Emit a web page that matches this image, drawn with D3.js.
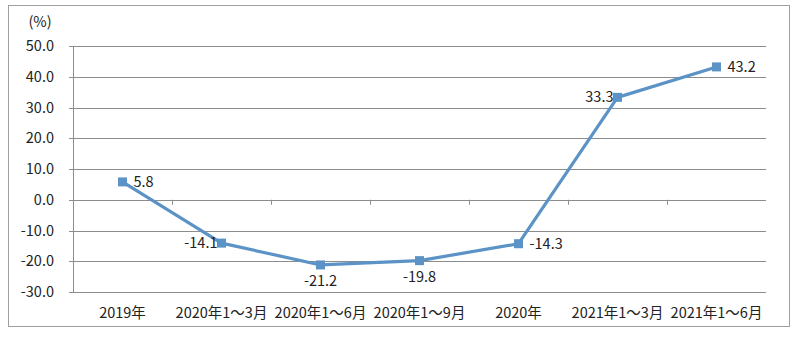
<!DOCTYPE html>
<html><head><meta charset="utf-8">
<script src="https://cdn.jsdelivr.net/npm/d3@7"></script>
<style>body{margin:0;background:#fff}svg{display:block}</style>
</head><body><svg id="c" width="800" height="337"></svg>
<script>
const categories = ["2019年","2020年1～3月","2020年1～6月","2020年1～9月","2020年","2021年1～3月","2021年1～6月"];
const values = [5.8, -14.1, -21.2, -19.8, -14.3, 33.3, 43.2];
const labelPos = ["right","left","below","below","right","left","right"];
const yTicks = [50,40,30,20,10,0,-10,-20,-30];
const unitLabel = "(%)";

const svg = d3.select("#c");
const font = "'Noto Sans CJK SC','Noto Sans',sans-serif";
const fs = 14.5;
const m = {l:73, r:766, t:46, b:292};
svg.append("rect").attr("x",8.5).attr("y",5.5).attr("width",781).attr("height",321)
  .attr("fill","#fff").attr("stroke","#a0a0a0");

const x = d3.scaleBand().domain(categories).range([m.l, m.r]);
const y = d3.scaleLinear().domain([-30,50]).range([m.b, m.t]);

svg.append("g").selectAll("line").data(yTicks).join("line")
  .attr("x1",m.l-4).attr("x2",m.r).attr("y1",d=>Math.round(y(d))+0.5).attr("y2",d=>Math.round(y(d))+0.5)
  .attr("stroke","#8c8c8c").attr("stroke-width",1);
svg.append("line").attr("x1",m.l+0.5).attr("x2",m.l+0.5).attr("y1",y(50)).attr("y2",y(-30)).attr("stroke","#8c8c8c");
svg.append("g").selectAll("text").data(yTicks).join("text")
  .attr("x",54).attr("y",d=>y(d)).attr("dy","0.35em").attr("text-anchor","end")
  .attr("font-family",font).attr("font-size",fs).attr("fill","#222").text(d=>d.toFixed(1));
svg.append("text").attr("x",40).attr("y",22).attr("dy","0.35em").attr("text-anchor","middle")
  .attr("font-family",font).attr("font-size",fs).attr("fill","#222").text(unitLabel);
const bounds = categories.slice(1).map(c=>x(c));
svg.append("g").selectAll("line").data(bounds).join("line")
  .attr("x1",d=>Math.round(d)+0.5).attr("x2",d=>Math.round(d)+0.5)
  .attr("y1",y(0)).attr("y2",y(0)+5).attr("stroke","#8c8c8c");
svg.append("g").selectAll("text").data(categories).join("text")
  .attr("x",d=>x(d)+x.bandwidth()/2).attr("y",313).attr("dy","0.35em").attr("text-anchor","middle")
  .attr("font-family",font).attr("font-size",fs).attr("fill","#222").text(d=>d);

const cx = (d,i)=>x(categories[i])+x.bandwidth()/2;
const line = d3.line().x((d,i)=>cx(d,i)).y(d=>y(d));
svg.append("path").datum(values).attr("d",line).attr("fill","none")
  .attr("stroke","#5b93c6").attr("stroke-width",3.2).attr("stroke-linejoin","round");
svg.append("g").selectAll("rect").data(values).join("rect")
  .attr("x",(d,i)=>cx(d,i)-4.5).attr("y",d=>y(d)-4.5).attr("width",9).attr("height",9)
  .attr("fill","#5b93c6");
svg.append("g").selectAll("text").data(values).join("text")
  .attr("x",(d,i)=>{const p=labelPos[i];return p==="right"?cx(d,i)+11:p==="left"?cx(d,i)-4:cx(d,i);})
  .attr("y",(d,i)=>labelPos[i]==="below"?y(d)+16:y(d))
  .attr("dy","0.35em")
  .attr("text-anchor",(d,i)=>labelPos[i]==="right"?"start":labelPos[i]==="left"?"end":"middle")
  .attr("font-family",font).attr("font-size",fs).attr("fill","#222").text(d=>d.toFixed(1));
</script></body></html>
